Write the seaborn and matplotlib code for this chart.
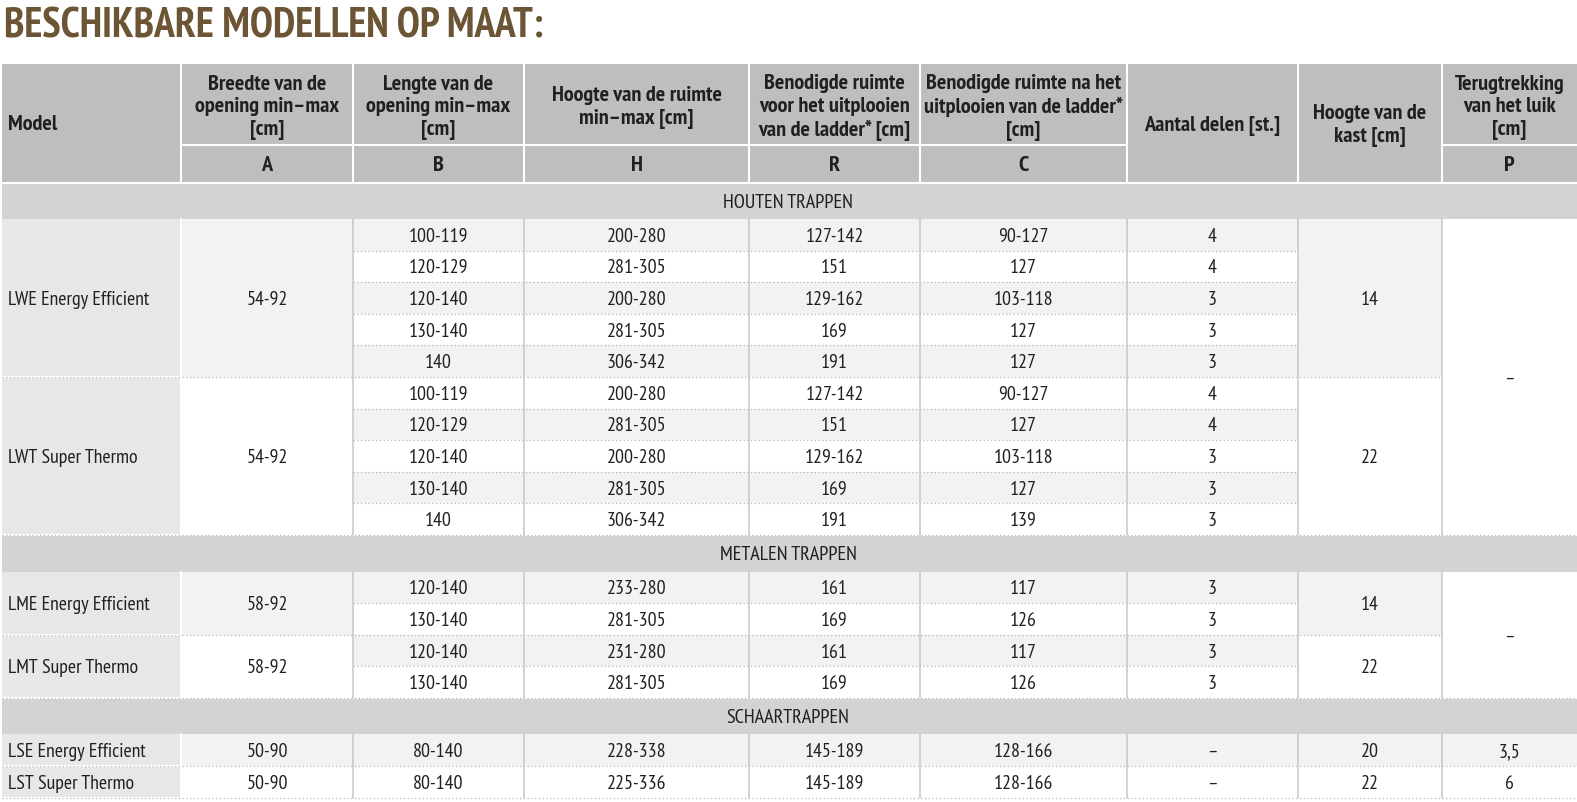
import numpy as np
import pandas as pd
import matplotlib.pyplot as plt
import seaborn as sns

sns.set_theme(style="white")
plt.rcParams['font.family'] = ['PT Sans Narrow', 'DejaVu Sans']
plt.rcParams['font.stretch'] = 'condensed'

title = "BESCHIKBARE MODELLEN OP MAAT:"
headers = ["Model",
           "Breedte van de\nopening min\u2013max\n[cm]",
           "Lengte van de\nopening min\u2013max\n[cm]",
           "Hoogte van de ruimte\nmin\u2013max [cm]",
           "Benodigde ruimte\nvoor het uitplooien\nvan de ladder* [cm]",
           "Benodigde ruimte na het\nuitplooien van de ladder*\n[cm]",
           "Aantal delen [st.]",
           "Hoogte van de\nkast [cm]",
           "Terugtrekking\nvan het luik\n[cm]"]
letters = ["", "A", "B", "H", "R", "C", "", "", "P"]

sections = ["HOUTEN TRAPPEN", "METALEN TRAPPEN", "SCHAARTRAPPEN"]
models = ["LWE Energy Efficient", "LWT Super Thermo",
          "LME Energy Efficient", "LMT Super Thermo",
          "LSE Energy Efficient", "LST Super Thermo"]
model_section = [0, 0, 1, 1, 2, 2]
model_rows = [5, 5, 2, 2, 1, 1]
breedte_a = ["54-92", "54-92", "58-92", "58-92", "50-90", "50-90"]
kast = ["14", "22", "14", "22", "20", "22"]

lengte_b = ["100-119", "120-129", "120-140", "130-140", "140",
            "100-119", "120-129", "120-140", "130-140", "140",
            "120-140", "130-140", "120-140", "130-140",
            "80-140", "80-140"]
hoogte_h = ["200-280", "281-305", "200-280", "281-305", "306-342",
            "200-280", "281-305", "200-280", "281-305", "306-342",
            "233-280", "281-305", "231-280", "281-305",
            "228-338", "225-336"]
ruimte_r = ["127-142", "151", "129-162", "169", "191",
            "127-142", "151", "129-162", "169", "191",
            "161", "169", "161", "169",
            "145-189", "145-189"]
ruimte_c = ["90-127", "127", "103-118", "127", "127",
            "90-127", "127", "103-118", "127", "139",
            "117", "126", "117", "126",
            "128-166", "128-166"]
delen = ["4", "4", "3", "3", "3",
         "4", "4", "3", "3", "3",
         "3", "3", "3", "3",
         "\u2013", "\u2013"]
# P column: merged per section for wood and metal, per row for schaar
terugtrekking_p = ["\u2013", "\u2013", "3,5", "6"]
p_rows = [10, 4, 1, 1]

# styling
TXT = "#231F20"
HEAD = "#BCBEC0"
BAND = "#D1D3D4"
MODEL_BG = "#E6E7E8"
SHADE = "#F1F2F2"
VLINE = "#C4C6C8"
DOT = "#B3B5B7"

col_x = [2, 181, 353, 524, 749, 920, 1127, 1298, 1442, 1577]
head_top, head_mid, head_bot = 64, 145, 181.5
band_h = 36.5
row_h = 31.6
fs = 14.3
hfs = 16
dy = 2  # optical shift of text inside cells

fig = plt.figure(figsize=(15.77, 8.02), dpi=100)
ax = fig.add_axes([0, 0, 1, 1])
ax.set_xlim(0, 1577)
ax.set_ylim(802, 0)
ax.axis("off")


def cell(x0, x1, y0, y1, color):
    ax.bar(x0, y1 - y0, width=x1 - x0, bottom=y0, align="edge",
           color=color, linewidth=0)


def put(x, y, s, **kw):
    kw.setdefault("ha", "center")
    kw.setdefault("fontsize", fs)
    ax.text(x, y + dy, s, va="center", color=TXT, zorder=5, **kw)


def dotted(x0, x1, yy):
    ax.plot([x0, x1], [yy, yy], color=DOT, lw=0.9, ls=(0, (1, 2)), zorder=3)


def cx(i):
    return (col_x[i] + col_x[i + 1]) / 2


ax.text(4, 27, title, color="#6B5535", fontsize=30, fontweight="bold",
        va="center", ha="left")

# header
cell(col_x[0], col_x[-1], head_top, head_bot, HEAD)
full_span = [0, 6, 7]
for i, h in enumerate(headers):
    if i in full_span:
        yc = (head_top + head_bot) / 2
    else:
        yc = (head_top + head_mid) / 2
    if i == 0:
        put(8, yc, h, ha="left", fontsize=hfs, fontweight="bold")
    else:
        put(cx(i), yc + 1, h, fontsize=hfs, fontweight="bold",
            linespacing=1.24)
    if letters[i]:
        put(cx(i), (head_mid + head_bot) / 2, letters[i], fontsize=hfs,
            fontweight="bold")
        ax.plot([col_x[i], col_x[i + 1]], [head_mid, head_mid], color="white",
                lw=1.5)
for x in col_x[1:-1]:
    ax.plot([x, x], [head_top, head_bot], color="white", lw=1.5)

# body
y = head_bot + 1
data_cols = [lengte_b, hoogte_h, ruimte_r, ruimte_c, delen]
row_i = 0
section_bounds = []
for s, name in enumerate(sections):
    cell(col_x[0], col_x[-1], y, y + band_h, BAND)
    put(788, y + band_h / 2, name, fontsize=14.5)
    ax.plot([col_x[0], col_x[-1]], [y, y], color="white", lw=1.5)
    y += band_h
    sec_top = y
    k = 0
    for m in range(len(models)):
        if model_section[m] != s:
            continue
        n = model_rows[m]
        g0, g1 = y, y + n * row_h
        cell(col_x[0], col_x[1], g0, g1, MODEL_BG)
        put(8, (g0 + g1) / 2, models[m], ha="left")
        grp_bg = SHADE if k % 2 == 0 else "white"
        cell(col_x[1], col_x[2], g0, g1, grp_bg)
        put(cx(1), (g0 + g1) / 2, breedte_a[m])
        cell(col_x[7], col_x[8], g0, g1, grp_bg)
        put(cx(7), (g0 + g1) / 2, kast[m])
        for r in range(n):
            r0 = y + r * row_h
            bg = SHADE if row_i % 2 == 0 else "white"
            cell(col_x[2], col_x[7], r0, r0 + row_h, bg)
            for j, col in enumerate(data_cols):
                put(cx(j + 2), r0 + row_h / 2, col[row_i])
            if r > 0:
                dotted(col_x[2], col_x[7], r0)
            row_i += 1
        ax.plot([col_x[0], col_x[1]], [g1, g1], color="white", lw=1.5)
        dotted(col_x[0], col_x[8], g1)
        y = g1
        k += 1
    section_bounds.append((sec_top, y))

# P column
p_y = [section_bounds[0][0], section_bounds[1][0], section_bounds[2][0],
       section_bounds[2][0] + row_h]
for v, n, p0 in zip(terugtrekking_p, p_rows, p_y):
    p1 = p0 + n * row_h
    bg = SHADE if (n == 1 and v == "3,5") else "white"
    cell(col_x[8], col_x[9], p0, p1, bg)
    put(cx(8), (p0 + p1) / 2, v)
    dotted(col_x[8], col_x[9], p1)

# vertical lines in body
for a, b in section_bounds:
    for x in col_x[2:-1]:
        ax.plot([x, x], [a, b], color=VLINE, lw=1.1, zorder=4)
    ax.plot([col_x[1], col_x[1]], [a, b], color="white", lw=1.5, zorder=4)

fig.savefig("out.png", dpi=100)
